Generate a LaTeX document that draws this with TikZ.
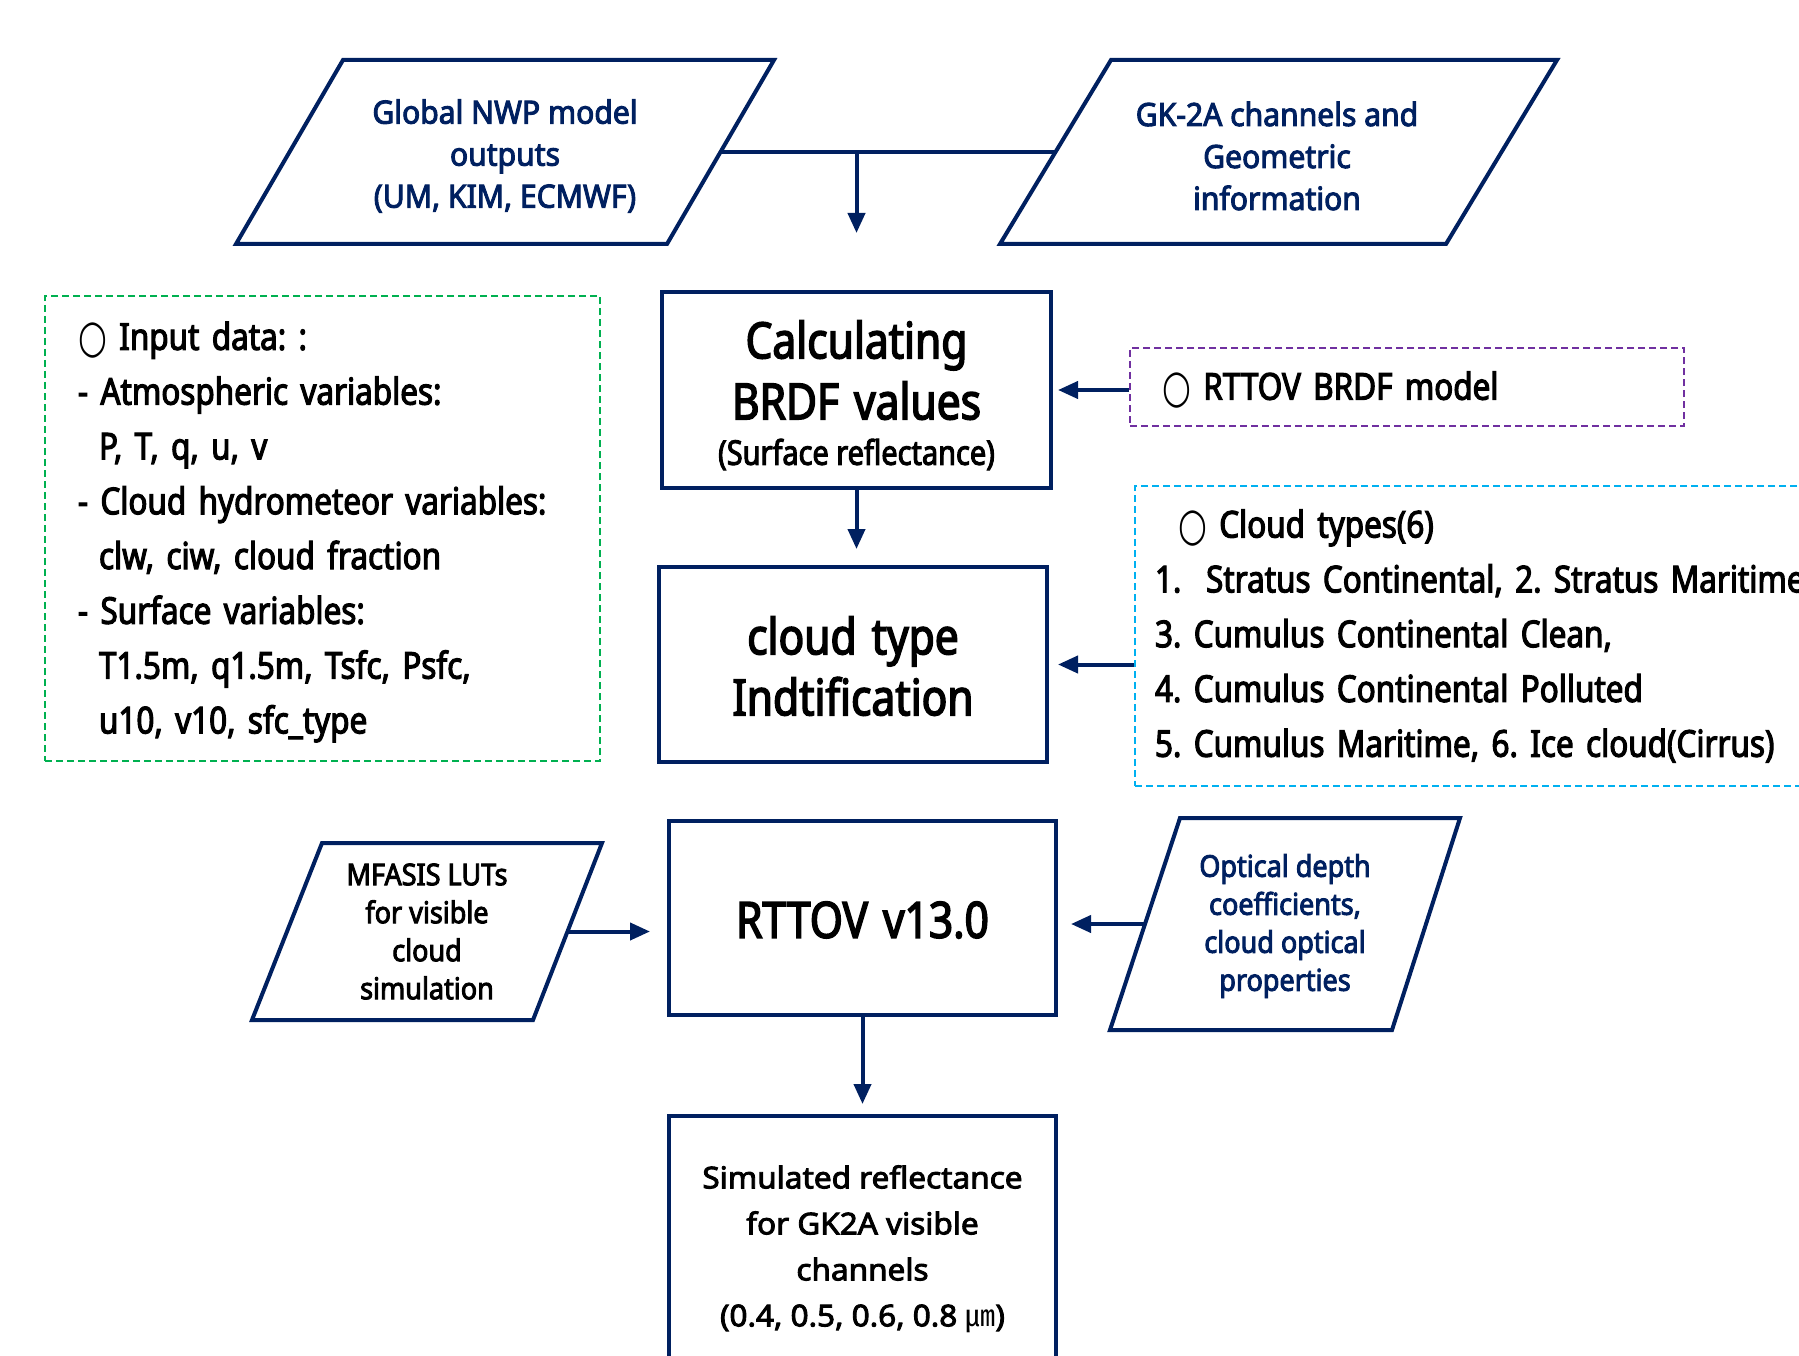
\documentclass[tikz,border=0pt]{standalone}
\usepackage{fontspec}
\setmainfont{Noto Sans}[FakeStretch=1.05, AutoFakeBold=3]
\newfontfamily\fpar{Noto Sans}[FakeStretch=0.94, AutoFakeBold=3]
\newfontfamily\fnar{Noto Sans}[FakeStretch=0.9, AutoFakeBold=3]
\newfontfamily\fcon{Noto Sans}[FakeStretch=0.85, AutoFakeBold=3]
\newfontfamily\symf{DejaVu Sans}[FakeStretch=0.72]
\newfontfamily\cjkf{Noto Sans CJK KR}
\usetikzlibrary{arrows.meta,calc}
\definecolor{navy}{HTML}{002060}
\definecolor{dgreen}{HTML}{00B050}
\definecolor{dpurple}{HTML}{7030A0}
\definecolor{dblue}{HTML}{00B0F0}
\newcommand{\circsym}{\raisebox{-3pt}{\symf\mdseries\fontsize{46}{46}\selectfont ○}}
\newcommand{\topext}[2]{\raisebox{0pt}[\dimexpr\height+#1\relax]{#2}}
\newcommand{\fntPara}{\fpar\bfseries\fontsize{32}{42}\selectfont}
\newcommand{\fntParaS}{\fnar\bfseries\fontsize{30}{38}\selectfont}
\newcommand{\fntBig}{\fcon\bfseries\fontsize{50}{61}\selectfont\spaceskip=15pt plus 2pt}
\newcommand{\fntSmall}{\fcon\bfseries\fontsize{34}{40}\selectfont\spaceskip=0pt}
\newcommand{\fntNote}{\fcon\bfseries\fontsize{37}{54.8}\selectfont}
\newcommand{\fntSim}{\rmfamily\bfseries\fontsize{30}{46}\selectfont}
\begin{document}
\frenchspacing
\begin{tikzpicture}[x=1pt,y=-1pt,
  box/.style={draw=navy, line width=4pt, rectangle, inner sep=0pt, align=center},
  paratext/.style={rectangle, inner sep=0pt, align=center},
  paraline/.style={draw=navy, line width=4pt, line join=miter},
  arr/.style={draw=navy, line width=4pt, -{Triangle[length=20pt,width=17pt]}},
  link/.style={draw=navy, line width=4pt},
  note/.style={rectangle, line width=2.5pt, dash pattern=on 7pt off 4pt, align=left, inner ysep=0pt, font=\fntNote}
]
\useasboundingbox (0,0) rectangle (1799,1356);
\clip (0,0) rectangle (1799,1356);
\fill[white] (0,0) rectangle (1799,1356);

% top inputs (parallelograms)
\draw[paraline] (236,244) -- (667,244) -- (774,60) -- (343,60) -- cycle;
\node[paratext, text=navy, font=\fntPara] (A) at (505,156) {Global NWP model\\outputs\\(UM, KIM, ECMWF)};
\coordinate (Ae) at (720.5,152);
\draw[paraline] (1000,244) -- (1446,244) -- (1557,60) -- (1111,60) -- cycle;
\node[paratext, text=navy, font=\fntPara] (B) at (1277,156) {GK-2A channels and\\Geometric\\information};
\coordinate (Bw) at (1055.5,152);

% main boxes
\node[box, minimum width=389pt, minimum height=196pt, font=\fntBig]
      (C) at (856.5,390) {\topext{10.5pt}{Calculating}\\BRDF values\\[-15.5pt]{\fntSmall (Surface reflectance)}};
\node[box, minimum width=388pt, minimum height=195pt, font=\fntBig]
      (D) at (853,664.5) {\topext{3pt}{cloud type}\\Indtification};
\node[box, minimum width=387pt, minimum height=194pt, font=\fntBig]
      (E) at (862.5,918) {\topext{4pt}{RTTOV v13.0}};
\node[box, minimum width=387pt, minimum height=266pt, font=\fntSim]
      (H) at (862.5,1249) {Simulated reflectance\\for GK2A visible\\channels\\(0.4, 0.5, 0.6, 0.8 {\cjkf\mdseries ㎛})};

% side inputs (parallelograms)
\draw[paraline] (252,1020) -- (533,1020) -- (602,843) -- (322,843) -- cycle;
\node[paratext, font=\fntParaS] (F) at (427,931.5) {MFASIS LUTs\\for visible\\cloud\\simulation};
\coordinate (Fe) at (567.5,931.5);
\draw[paraline] (1110,1030) -- (1392,1030) -- (1460,818) -- (1180,818) -- cycle;
\node[paratext, text=navy, font=\fntParaS] (G) at (1285,926) {Optical depth\\coefficients,\\cloud optical\\properties};
\coordinate (Gw) at (1145,924);

% dashed notes
\node[note, draw=dgreen, minimum width=555pt, minimum height=465pt,
      text width=489pt, inner xsep=33pt] (N) at (322.5,528.5)
  {\topext{7pt}{\circsym\ Input data: :}\\
   - Atmospheric variables:\\
   \hspace*{21pt}P, T, q, u, v\\
   - Cloud hydrometeor variables:\\
   \hspace*{21pt}clw, ciw, cloud fraction\\
   - Surface variables:\\
   \hspace*{21pt}T1.5m, q1.5m, Tsfc, Psfc,\\
   \hspace*{21pt}u10, v10, sfc\_type};
\node[note, draw=dpurple, minimum width=554pt, minimum height=78pt,
      text width=490pt, inner xsep=32pt] (P) at (1407,387)
  {\topext{6pt}{\circsym\ RTTOV BRDF model}};
\node[note, draw=dblue, minimum width=720pt, minimum height=300pt,
      text width=680pt, inner xsep=20pt] (L) at (1495,636)
  {\hspace*{23pt}\circsym\ Cloud types(6)\\
   1.\ \ Stratus Continental, 2. Stratus Maritime\\
   3. Cumulus Continental Clean,\\
   4. Cumulus Continental Polluted\\
   5. Cumulus Maritime, 6. Ice cloud(Cirrus)};

% connectors
\draw[link] (Ae) -- (Bw);
\coordinate (J) at (C.north |- Ae);
\draw[arr] (J) -- ++(0,81);
\draw[arr, shorten >=16pt] (C.south) -- (C.south |- D.north);
\draw[arr, shorten >=5pt] (P.west |- C.east) -- (C.east);
\draw[arr, shorten >=9pt] (L.west |- D.east) -- (D.east);
\draw[arr, shorten >=17pt] (Fe) -- (Fe -| E.west);
\draw[arr, shorten >=13pt] (Gw) -- (Gw -| E.east);
\draw[arr, shorten >=10pt] (E.south) -- (E.south |- H.north);
\end{tikzpicture}
\end{document}
